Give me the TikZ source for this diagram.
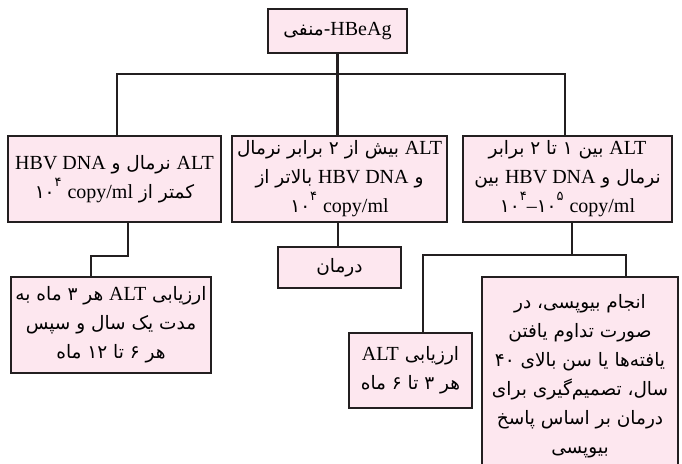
\documentclass[tikz,border=0pt]{standalone}
\usepackage{fontspec}
\setmainfont{Liberation Serif}
\newfontfamily\fa[Script=Arabic]{DejaVu Sans}
\TeXXeTstate=1
\usetikzlibrary{positioning}
\definecolor{boxpink}{HTML}{FDE7EF}
\definecolor{linegray}{HTML}{231F20}
\newcommand{\faln}[1]{\beginR #1\endR}
\newcommand{\enw}[1]{{\rmfamily\fontsize{20}{29}\selectfont #1}}
\newcommand{\supfa}[1]{\raisebox{1.2ex}{\fontsize{13}{13}\selectfont #1}}

\begin{document}
\begin{tikzpicture}[x=1pt, y=-1pt,
  box/.style={draw=linegray, line width=2.2pt, fill=boxpink, inner sep=0pt,
    align=center, font=\fa\fontsize{18.5}{29}\selectfont},
  link/.style={draw=linegray, line width=2.2pt}]
  \useasboundingbox (0,0) rectangle (682,463);
  \clip (0,0) rectangle (682,463);

  \node[box, minimum width=139pt, minimum height=44pt] (neg) at (337.5, 31) {\faln{\enw{HBeAg}-منفی}};

  \node[box, minimum width=213pt, minimum height=86pt] (low) at (114.5, 179)
    {\faln{\enw{ALT} نرمال و \beginL\enw{HBV DNA}\endL}\\
     \faln{کمتر از \beginL ۱۰\supfa{۴} \enw{copy/ml}\endL}};
  \node[box, minimum width=215pt, minimum height=86pt] (high) at (339.5, 179)
    {\faln{\enw{ALT} بیش از ۲ برابر نرمال}\\
     \faln{و \beginL\enw{HBV DNA}\endL{} بالاتر از}\\
     ۱۰\supfa{۴} \enw{copy/ml}};
  \node[box, minimum width=209pt, minimum height=86pt] (mid) at (567.5, 179)
    {\faln{\enw{ALT} بین ۱ تا ۲ برابر}\\
     \faln{نرمال و \beginL\enw{HBV DNA}\endL{} بین}\\
     ۱۰\supfa{۴}\enw{–}۱۰\supfa{۵} \enw{copy/ml}};

  \node[box, minimum width=200pt, minimum height=96pt] (eval1) at (111, 325)
    {\faln{ارزیابی \enw{ALT} هر ۳ ماه به}\\
     \faln{مدت یک سال و سپس}\\
     \faln{هر ۶ تا ۱۲ ماه}};
  \node[box, minimum width=123pt, minimum height=41pt] (treat) at (339.5, 267.5) {\faln{درمان}};
  \node[box, minimum width=123pt, minimum height=75pt] (eval2) at (410.5, 370.5)
    {\faln{ارزیابی \enw{ALT}}\\
     \faln{هر ۳ تا ۶ ماه}};
  \node[box, minimum width=196pt, minimum height=198pt] (biopsy) at (580, 376)
    {\faln{انجام بیوپسی، در}\\
     \faln{صورت تداوم یافتن}\\
     \faln{یافته‌ها یا سن بالای ۴۰}\\
     \faln{سال، تصمیم‌گیری برای}\\
     \faln{درمان بر اساس پاسخ}\\
     \faln{بیوپسی}};

  % first split
  \coordinate (split) at (337.5, 74);
  \draw[link] (neg.south) -- (split);
  \draw[link] ([xshift=2.5pt]low.north) |- (split) -| ([xshift=-2.5pt]mid.north);
  \draw[link] (split) -- (split |- high.north);

  % second level
  \draw[link] ([xshift=13.5pt]low.south) -- ++(0, 33) -| ([xshift=-20pt]eval1.north);
  \draw[link] ([xshift=-1.5pt]high.south) -- ([xshift=-1.5pt]treat.north);
  \coordinate (fork) at (572, 255);
  \draw[link] ([xshift=4.5pt]mid.south) -- (fork);
  \draw[link] ([xshift=12.5pt]eval2.north) |- (fork) -| ([xshift=46pt]biopsy.north);
\end{tikzpicture}
\end{document}
